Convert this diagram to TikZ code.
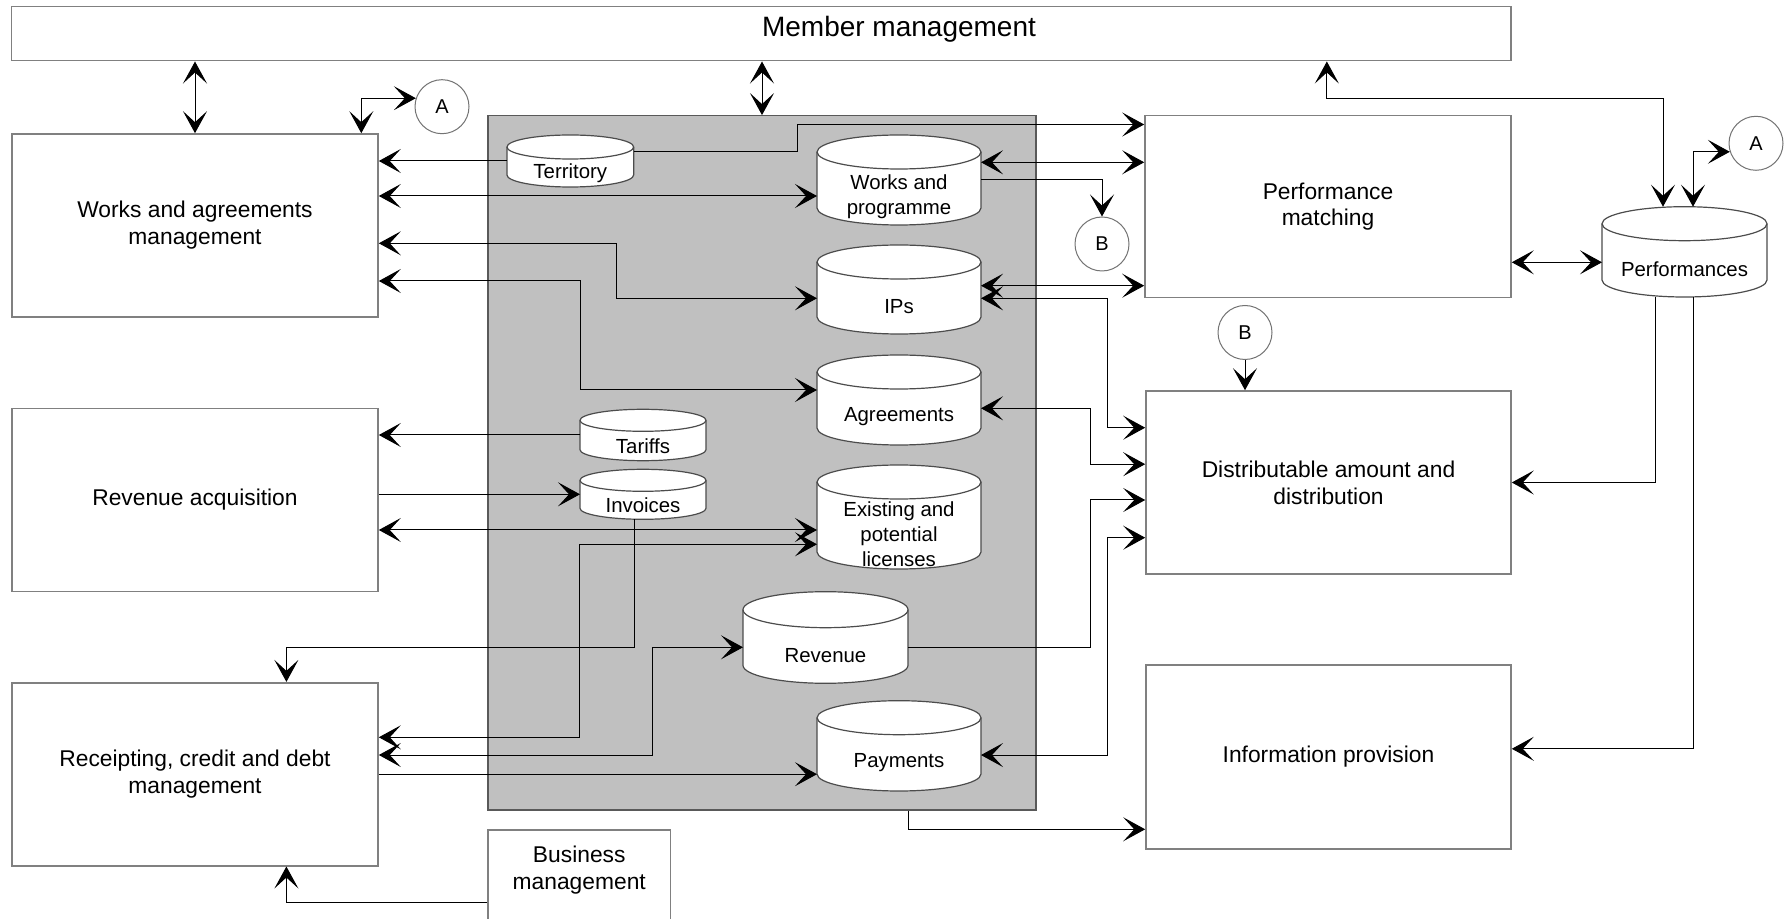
\documentclass[tikz,border=0pt]{standalone}
\usepackage{fontspec}
\setmainfont{Liberation Sans}
\usetikzlibrary{arrows.meta}

\definecolor{panelgray}{RGB}{192,192,192}

% data store drawn as a drum: name, x, y, width, height, cap radius, text
\newcommand{\dbdrum}[7]{%
  \node[drumbox, minimum width=#4, minimum height=#5] (#1) at (#2,#3) {};
  \draw[drumline] ([yshift=-#6]#1.north west) -- ([yshift=#6]#1.south west)
    arc[start angle=180, end angle=360, x radius=#4/2, y radius=#6]
    -- ([yshift=-#6]#1.north east)
    arc[start angle=0, end angle=180, x radius=#4/2, y radius=#6] -- cycle;
  \draw[drumline, fill=none] ([yshift=-#6]#1.north west)
    arc[start angle=180, end angle=360, x radius=#4/2, y radius=#6];
  \node[drumtext] (#1-t) at ([yshift=-#6]#1.center) {#7};
}

\begin{document}
\begin{tikzpicture}[x=0.5pt, y=-0.5pt,
    >={Stealth[length=11pt, width=12pt, inset=5.5pt]},
    box/.style={rectangle, draw=black!50, line width=0.8pt, fill=white, inner sep=0pt,
      align=center, font=\fontsize{11.4}{13.4}\selectfont},
    boxtext/.style={align=center, inner sep=0pt, font=\fontsize{11.4}{13.4}\selectfont},
    panel/.style={rectangle, draw=black!65, line width=0.6pt, fill=panelgray, inner sep=0pt},
    drumbox/.style={rectangle, inner sep=0pt, outer sep=0pt},
    drumline/.style={draw=black!70, line width=0.6pt, fill=white},
    drumtext/.style={align=center, inner sep=0pt, font=\fontsize{10.2}{12.4}\selectfont},
    tag/.style={circle, draw=black!55, line width=0.5pt, fill=white, minimum size=27pt,
      inner sep=0pt, font=\fontsize{10}{12}\selectfont},
    flow/.style={line width=0.5pt}]

    \useasboundingbox (0,0) rectangle (1784,919);
    \clip (0,0) rectangle (1784,919);

    % processes
    \node[box, minimum width=749.75pt, minimum height=27pt] (member) at (761.25,33.7) {};
    \node[boxtext, font=\fontsize{14}{16.8}\selectfont] (member-t) at (899,29) {Member management};

    \node[box, minimum width=183pt, minimum height=91.5pt] (works) at (195,225.5) {Works and agreements\\management};
    \node[box, minimum width=183pt, minimum height=91.6pt] (revacq) at (195,500) {Revenue acquisition};
    \node[box, minimum width=183pt, minimum height=91.5pt] (receipt) at (195,774.2) {Receipting, credit and debt\\management};
    \node[box, minimum width=91.25pt, minimum height=50pt, anchor=north] (bus) at (579.25,829.3) {};
    \node[boxtext] (bus-t) at (579.25,870) {Business\\management};

    \node[box, minimum width=183pt, minimum height=91pt] (perf) at (1328,206.7) {Performance\\matching};
    \node[box, minimum width=182.5pt, minimum height=91.5pt] (dist) at (1328.5,482.5) {Distributable amount and\\distribution};
    \node[box, minimum width=182.5pt, minimum height=92pt] (info) at (1328.5,757) {Information provision};

    % data stores
    \node[panel, minimum width=274pt, minimum height=347.15pt] (store) at (762,462.85) {};

    \dbdrum{territory}{570.3}{161}{63.35pt}{26pt}{6pt}{Territory}
    \dbdrum{wprog}{899}{180}{82pt}{45pt}{8.5pt}{Works and\\programme}
    \dbdrum{ips}{899}{289.5}{82pt}{44.5pt}{8.5pt}{IPs}
    \dbdrum{agree}{899}{400}{82pt}{45pt}{8.5pt}{Agreements}
    \dbdrum{lic}{899}{517}{82pt}{52pt}{8.5pt}{Existing and\\potential\\licenses}
    \dbdrum{tariffs}{643}{435}{63pt}{25.7pt}{5.5pt}{Tariffs}
    \dbdrum{invoices}{643}{494.3}{63pt}{25pt}{5.5pt}{Invoices}
    \dbdrum{revenue}{825.5}{637.5}{82.5pt}{45.8pt}{9pt}{Revenue}
    \dbdrum{payments}{899}{745.85}{82pt}{45.15pt}{8.5pt}{Payments}
    \dbdrum{perfs}{1684.5}{251.85}{82.5pt}{45.15pt}{8.5pt}{Performances}

    \node[tag] (a1) at (442,106.7) {A};
    \node[tag] (a2) at (1756,143.3) {A};
    \node[tag] (b1) at (1102,244) {B};
    \node[tag] (b2) at (1245,332.5) {B};

    % links to member management
    \draw[flow, <->] (works.north) -- (works.north |- member.south);
    \draw[flow, <->] (store.north) -- (store.north |- member.south);
    \draw[flow, <->] ([xshift=-10.75pt]perfs.north) -- ++(0,-108.4) -| ([xshift=282.8pt]member.south);
    \draw[flow, <->] ([xshift=-8.75pt]works.north east) |- (a1.162);
    \draw[flow, <->] ([xshift=4.25pt]perfs.north) |- (a2.198);

    % works and agreements management
    \draw[flow, ->] (territory.west) -- (territory.west -| works.east);
    \draw[flow, <->] ([yshift=-8pt]wprog.west -| works.east) -- ([yshift=-8pt]wprog.west);
    \draw[flow, <->] ([yshift=-8.9pt]works.east) -- ++(237.3,0) |- ([yshift=-4.4pt]ips.west);
    \draw[flow, <->] ([yshift=-27.75pt]works.east) -- ++(201.7,0) |- ([yshift=5pt]agree.west);

    % performance matching
    \draw[flow, ->] ([yshift=4.65pt]territory.east) -- ++(164.3,0) |- ([yshift=-4.8pt]perf.north west);
    \draw[flow, <->] ([yshift=8.85pt]wprog.east) -- ([yshift=8.85pt]wprog.east -| perf.west);
    \draw[flow, ->] (wprog.east) -| (b1.north);
    \draw[flow, <->] ([yshift=1.9pt]ips.east) -- ([yshift=1.9pt]ips.east -| perf.west);
    \draw[flow, <->] ([yshift=-27.8pt]perf.east) -- ([yshift=-27.8pt]perf.east -| perfs.west);

    % distribution
    \draw[flow, ->] (b2.south) -- (b2.south |- dist.north);
    \draw[flow, <->] ([yshift=-4.4pt]ips.east) -- ++(126.7,0) |- ([yshift=27.4pt]dist.west);
    \draw[flow, <->] ([yshift=-4.15pt]agree.east) -- ++(109.4,0) |- ([yshift=9.15pt]dist.west);
    \draw[flow, ->] ([yshift=-4.75pt]revenue.east) -- ++(182.4,0) |- ([yshift=-8.75pt]dist.west);
    \draw[flow, <->] ([yshift=-4.6pt]payments.east) -- ++(126.7,0) |- ([yshift=-27.6pt]dist.west);
    \draw[flow, ->] ([xshift=-14.75pt]perfs.south) |- (dist.east);

    % information provision
    \draw[flow, ->] ([xshift=4.25pt]perfs.south) |- ([yshift=4.1pt]info.east);
    \draw[flow, ->] ([xshift=73pt]store.south) |- ([yshift=-36.15pt]info.west);

    % revenue acquisition
    \draw[flow, ->] (tariffs.west) -- (tariffs.west -| revacq.east);
    \draw[flow, ->] (invoices.west -| revacq.east) -- (invoices.west);
    \draw[flow, <->] ([yshift=-6.5pt]lic.west -| revacq.east) -- ([yshift=-6.5pt]lic.west);

    % receipting
    \draw[flow, <->] ([yshift=-13.65pt]lic.west) -- ++(-237.4,0) |- ([yshift=18.45pt]receipt.east);
    \draw[flow, ->] ([xshift=-4.35pt]invoices.south) -- ++(0,128) -| ([xshift=45.7pt]receipt.north);
    \draw[flow, <->] ([yshift=9.6pt]receipt.east) -- ++(273.5,0) |- ([yshift=-4.9pt]revenue.west);
    \draw[flow, ->] (receipt.east) -- (receipt.east -| payments.west);
    \draw[flow, ->] ([yshift=-11.15pt]bus.west) -| ([xshift=45.7pt]receipt.south);

\end{tikzpicture}
\end{document}
